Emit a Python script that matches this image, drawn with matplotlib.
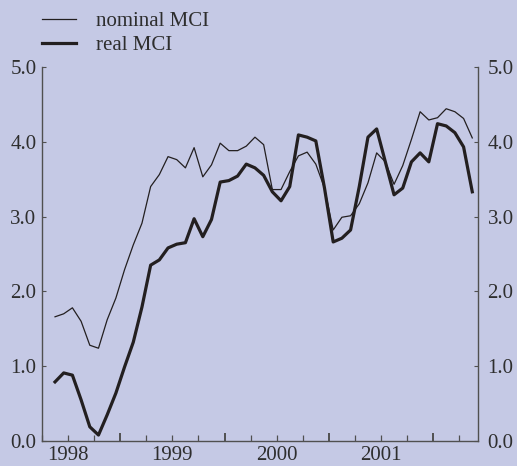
import numpy as np
import matplotlib
matplotlib.use("Agg")
import matplotlib.pyplot as plt
from matplotlib.transforms import ScaledTranslation

# monthly observations, May 1998 - May 2002
start_year, start_month = 1998, 5
nominal_mci = [
    1.66, 1.70, 1.78, 1.60, 1.28, 1.24, 1.62, 1.91, 2.29, 2.62, 2.91, 3.40,
    3.56, 3.80, 3.76, 3.65, 3.92, 3.53, 3.69, 3.98, 3.88, 3.88, 3.94, 4.06,
    3.96, 3.36, 3.36, 3.60, 3.81, 3.86, 3.70, 3.38, 2.82, 2.99, 3.01, 3.17,
    3.45, 3.85, 3.73, 3.43, 3.68, 4.03, 4.40, 4.29, 4.32, 4.44, 4.40, 4.31,
    4.05,
]
real_mci = [
    0.79, 0.91, 0.88, 0.55, 0.19, 0.08, 0.35, 0.64, 0.99, 1.32, 1.79, 2.35,
    2.42, 2.58, 2.63, 2.65, 2.97, 2.73, 2.96, 3.46, 3.48, 3.54, 3.70, 3.65,
    3.55, 3.33, 3.21, 3.40, 4.09, 4.06, 4.01, 3.38, 2.66, 2.71, 2.82, 3.40,
    4.06, 4.17, 3.73, 3.29, 3.38, 3.73, 3.85, 3.73, 4.24, 4.21, 4.12, 3.93,
    3.33,
]
year_labels = ["1998", "1999", "2000", "2001"]
y_ticks = [0.0, 1.0, 2.0, 3.0, 4.0, 5.0]

# mid-month positions in decimal years
n = len(nominal_mci)
x = start_year + (start_month - 1 + np.arange(n) + 0.5) / 12

bg = "#c5c9e5"
ink = "#231f20"
axis_col = "#505050"
txt_col = "#2e2e2e"

plt.rcParams["font.family"] = ["Liberation Serif", "DejaVu Serif"]

fig = plt.figure(figsize=(5.17, 4.66), dpi=100, facecolor=bg)
ax = fig.add_axes([0.0812, 0.0536, 0.8434, 0.803], facecolor=bg)

ax.plot(x, nominal_mci, color=ink, lw=0.9, label="nominal MCI")
ax.plot(x, real_mci, color=ink, lw=2.3, label="real MCI")

ax.set_xlim(1998.25, 2002.43)
ax.set_ylim(0, 5)

ax.spines["top"].set_visible(False)
for s in ["left", "right", "bottom"]:
    ax.spines[s].set_color(axis_col)
    ax.spines[s].set_linewidth(1.0)

# y axis labelled on both sides
ax.set_yticks(y_ticks)
ax.set_yticklabels([f"{v:.1f}" for v in y_ticks])
ax.tick_params(axis="y", which="major", direction="in", length=3, width=0.8,
               color=axis_col, labelsize=15, labelcolor=txt_col,
               left=True, right=True, labelleft=True, labelright=True, pad=4)
# right-hand labels sit a little further from the spine
offset = ScaledTranslation(4 / 100, 0, fig.dpi_scale_trans)
for t in ax.yaxis.get_major_ticks():
    t.label2.set_transform(t.label2.get_transform() + offset)

# x axis: year boundaries as major ticks, quarters as minor, labels mid-year
years = [int(y) for y in year_labels]
ax.set_xticks([y + 1 for y in years], labels=[""] * len(years))
quarters = []
qlabels = []
for y in years:
    for q in (0.25, 0.5, 0.75):
        pos = y + q
        if pos < 1998.25:
            continue
        quarters.append(pos)
        qlabels.append(str(y) if q == 0.5 else "")
quarters.append(years[-1] + 1.25)
qlabels.append("")
ax.set_xticks(quarters, labels=qlabels, minor=True)
ax.tick_params(axis="x", which="major", direction="in", length=6, width=1.4,
               color=axis_col)
ax.tick_params(axis="x", which="minor", direction="in", length=4.5, width=0.9,
               color=axis_col, labelsize=15, labelcolor=txt_col, pad=3.5)

fig.legend(loc="upper left", bbox_to_anchor=(0.0735, 0.984),
           frameon=False, fontsize=15, handlelength=1.63,
           handletextpad=0.96, labelspacing=0.22, borderpad=0.2,
           borderaxespad=0, labelcolor=txt_col)

fig.savefig("out.png", dpi=100, facecolor=bg)
